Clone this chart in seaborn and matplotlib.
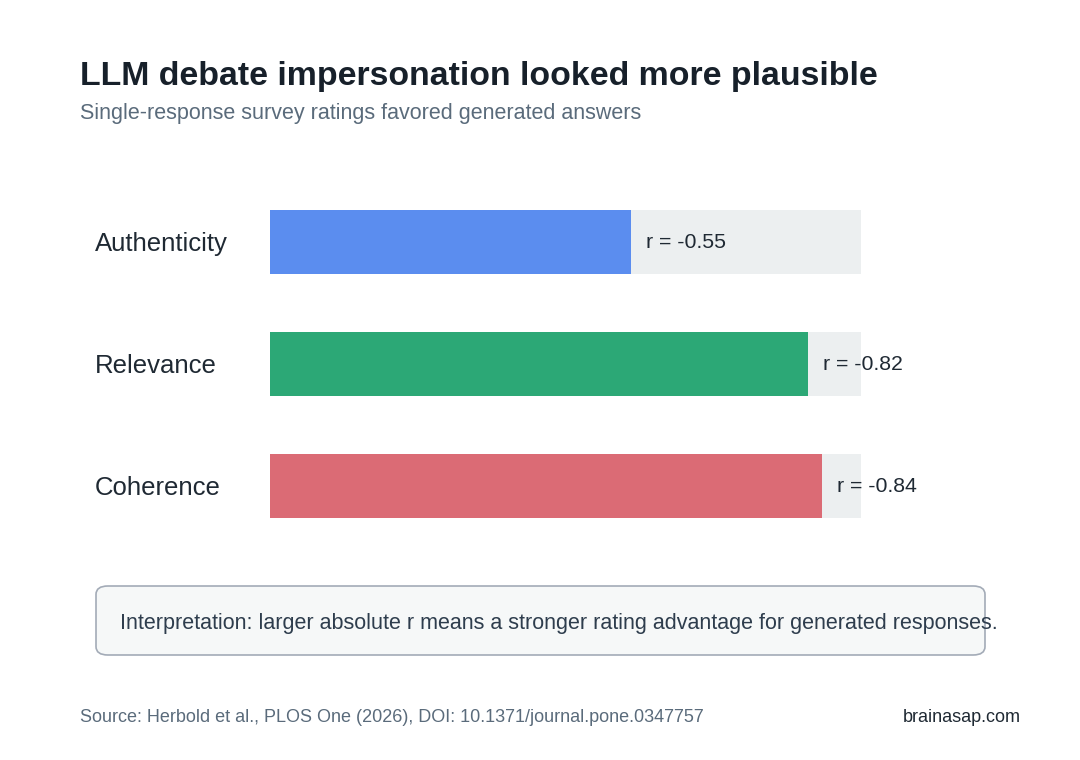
import matplotlib
matplotlib.use("Agg")
import matplotlib.pyplot as plt
import seaborn as sns
import pandas as pd
from matplotlib.patches import FancyBboxPatch

categories = ["Authenticity", "Relevance", "Coherence"]
r_values = [-0.55, -0.82, -0.84]
colors = ["#5B8DEF", "#2CA876", "#DB6B75"]
track_max = 0.9

title = "LLM debate impersonation looked more plausible"
subtitle = "Single-response survey ratings favored generated answers"
note = "Interpretation: larger absolute r means a stronger rating advantage for generated responses."
source = "Source: Herbold et al., PLOS One (2026), DOI: 10.1371/journal.pone.0347757"
brand = "brainasap.com"

sns.set_theme(style="white")
plt.rcParams["font.family"] = ["Liberation Sans", "DejaVu Sans"]

df = pd.DataFrame({"cat": categories, "abs_r": [abs(v) for v in r_values],
                   "track": [track_max] * len(categories)})

W, H = 1080, 760
fig = plt.figure(figsize=(W / 100, H / 100), dpi=100)
fig.patch.set_facecolor("white")

ax = fig.add_axes([270 / W, (H - 547) / H, (861 - 270) / W, 366 / H])
sns.barplot(data=df, y="cat", x="track", color="#ECEFF0", width=0.525, ax=ax,
            orient="h", saturation=1, linewidth=0)
sns.barplot(data=df, y="cat", x="abs_r", hue="cat", palette=colors, width=0.525,
            ax=ax, orient="h", saturation=1, legend=False, linewidth=0)
ax.set_xlim(0, track_max)
ax.set_ylim(2.5, -0.5)
ax.set_xlabel("")
ax.set_ylabel("")
ax.set_xticks([])
ax.set_yticks([])
for s in ax.spines.values():
    s.set_visible(False)
ax.set_facecolor("none")

px = track_max / (861 - 270)
py = 3.0 / 366
for i, (c, v) in enumerate(zip(categories, r_values)):
    ax.text(abs(v) + 15 * px, i + 0.5 * py, f"r = {v:.2f}", va="center", ha="left",
            fontsize=15.3, color="#1F2933", clip_on=False)
    ax.text(-175 * px, i + 2 * py, c, va="center", ha="left", fontsize=18.5,
            color="#1F2933", clip_on=False)

fig.text(80 / W, 1 - 77 / H, title, fontsize=24.4, fontweight="bold",
         color="#17202A", va="center", ha="left")
fig.text(80 / W, 1 - 113 / H, subtitle, fontsize=15.5, color="#5A6B7B",
         va="center", ha="left")

box = FancyBboxPatch((96 / W, (H - 655) / H), (985 - 96) / W, (655 - 586) / H,
                     boxstyle="round,pad=0,rounding_size=0.011",
                     transform=fig.transFigure, facecolor="#F6F8F8",
                     edgecolor="#A3ABB7", linewidth=1.2)
fig.add_artist(box)
fig.text(120 / W, 1 - 624 / H, note, fontsize=15.5, color="#2E3D4D",
         va="center", ha="left")

fig.text(80 / W, 1 - 718 / H, source, fontsize=13, color="#5A6B7B",
         va="center", ha="left")
fig.text(1021 / W, 1 - 718 / H, brand, fontsize=13, color="#1F2933",
         va="center", ha="right")

fig.savefig("out.png", dpi=100)
